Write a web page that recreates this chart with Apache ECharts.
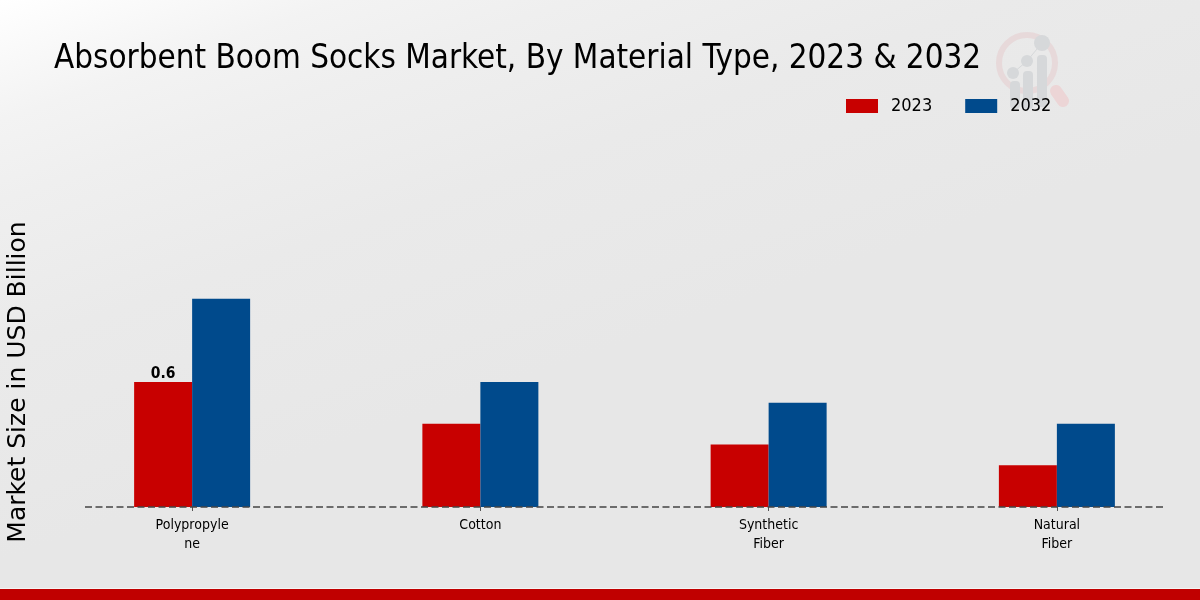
<!DOCTYPE html>
<html>
<head>
<meta charset="utf-8">
<style>html,body{margin:0;padding:0;background:#e8e8e8}#container{width:1200px;height:600px}</style>
<script src="https://cdn.jsdelivr.net/npm/echarts@6/dist/echarts.min.js"></script>
</head>
<body>
<div id="container"></div>
<script>
// values
var categories = ['Polypropyle\nne', 'Cotton', 'Synthetic\nFiber', 'Natural\nFiber'];
var values2023 = [0.6, 0.4, 0.3, 0.2];
var values2032 = [1.0, 0.6, 0.5, 0.4];

var cond = '"DejaVu Sans Condensed", "DejaVu Sans", sans-serif';
var myChart = echarts.init(document.getElementById('container'));

var option = {
    animation: false,
    backgroundColor: new echarts.graphic.LinearGradient(0, 0, 175, 500, [
        { offset: 0, color: '#ffffff' },
        { offset: 0.107, color: '#f9f9f9' },
        { offset: 0.214, color: '#f3f3f3' },
        { offset: 0.357, color: '#efefef' },
        { offset: 0.624, color: '#eaeaea' },
        { offset: 0.89, color: '#e8e8e8' },
        { offset: 1, color: '#e7e7e7' }
    ], true),
    title: {
        text: 'Absorbent Boom Socks Market, By Material Type, 2023 & 2032',
        left: 49,
        top: 38,
        textStyle: { fontFamily: cond, fontSize: 32.9, fontWeight: 'normal', color: '#000' }
    },
    legend: {
        left: 841,
        top: 92,
        itemWidth: 32,
        itemHeight: 14,
        itemGap: 33,
        icon: 'rect',
        textStyle: { fontFamily: cond, fontSize: 18, color: '#000', padding: [0, 0, 0, 8] },
        data: ['2023', '2032']
    },
    grid: { left: 48, width: 1153, top: 257, height: 250, outerBoundsMode: 'none' },
    xAxis: {
        type: 'category',
        data: categories,
        axisLine: { show: false },
        axisTick: { show: true, alignWithLabel: true, length: 4, lineStyle: { color: '#555' } },
        axisLabel: { fontFamily: cond, fontSize: 14, color: '#000', lineHeight: 19, margin: 9, interval: 0 }
    },
    yAxis: {
        type: 'value',
        min: 0,
        max: 1.2,
        name: 'Market Size in USD Billion',
        nameLocation: 'middle',
        nameGap: 17,
        nameTextStyle: { fontFamily: '"DejaVu Sans", sans-serif', fontSize: 25, color: '#000' },
        axisLine: { show: false },
        axisTick: { show: false },
        axisLabel: { show: false },
        splitLine: { show: false }
    },
    series: [
        {
            name: '2023',
            type: 'bar',
            barWidth: 58,
            barGap: 0,
            itemStyle: { color: '#c80000' },
            data: values2023.map(function (v, i) {
                return { value: v, label: { show: i === 0 } };
            }),
            label: {
                position: 'top',
                distance: 0,
                fontFamily: cond,
                fontSize: 15.5,
                fontWeight: 'bold',
                color: '#000'
            }
        },
        {
            name: '2032',
            type: 'bar',
            barWidth: 58,
            itemStyle: { color: '#004a8c' },
            data: values2032
        }
    ],
    graphic: [
        // baseline
        { type: 'line', z: 5, shape: { x1: 85, y1: 507, x2: 1165, y2: 507 },
          style: { stroke: '#444', lineWidth: 1.4, lineDash: [7, 3.5] } },
        // red footer band
        { type: 'rect', z: 5, shape: { x: 0, y: 589, width: 1200, height: 11 }, style: { fill: '#c00000' } },
        { type: 'rect', z: 5, shape: { x: 0, y: 588, width: 1200, height: 1 }, style: { fill: '#f4f4f4' } },
        // watermark logo
        { type: 'circle', z: 1, shape: { cx: 1027, cy: 63, r: 28 }, style: { fill: 'none', stroke: '#e7d9da', lineWidth: 6 } },
        { type: 'line', z: 1, shape: { x1: 1056, y1: 91, x2: 1063, y2: 101 }, style: { stroke: '#ecd5d6', lineWidth: 12, lineCap: 'round' } },
        { type: 'rect', z: 1, shape: { x: 1010, y: 81, width: 10, height: 28, r: 4 }, style: { fill: '#d6d8da' } },
        { type: 'rect', z: 1, shape: { x: 1023, y: 71, width: 10, height: 38, r: 4 }, style: { fill: '#d6d8da' } },
        { type: 'rect', z: 1, shape: { x: 1037, y: 55, width: 10, height: 52, r: 4 }, style: { fill: '#d6d8da' } },
        { type: 'polyline', z: 1, shape: { points: [[1013, 73], [1027, 61], [1042, 43]] }, style: { fill: 'none', stroke: '#d6d8da', lineWidth: 1 } },
        { type: 'circle', z: 1, shape: { cx: 1013, cy: 73, r: 6 }, style: { fill: '#d6d8da' } },
        { type: 'circle', z: 1, shape: { cx: 1027, cy: 61, r: 6 }, style: { fill: '#d6d8da' } },
        { type: 'circle', z: 1, shape: { cx: 1042, cy: 43, r: 8 }, style: { fill: '#d6d8da' } }
    ]
};

myChart.setOption(option);
</script>
</body>
</html>
